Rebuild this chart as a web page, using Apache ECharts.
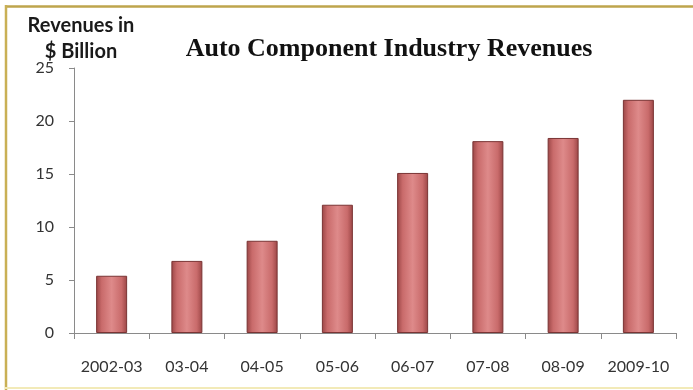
<!DOCTYPE html>
<html>
<head>
<meta charset="utf-8">
<title>Auto Component Industry Revenues</title>
<script src="https://cdn.jsdelivr.net/npm/echarts@6/dist/echarts.min.js"></script>
<style>
  html, body { margin: 0; padding: 0; background: #ffffff; }
  #chart { width: 693px; height: 390px; }
</style>
</head>
<body>
<div id="chart"></div>
<script>
// Fiscal years and revenues (US$ billion)
const years = ['2002-03', '03-04', '04-05', '05-06', '06-07', '07-08', '08-09', '2009-10'];
const revenues = [5.4, 6.8, 8.7, 12.1, 15.1, 18.1, 18.4, 22.0];
const yTicks = { min: 0, max: 25, step: 5 };

const chart = echarts.init(document.getElementById('chart'), null, { renderer: 'canvas' });

const barFill = new echarts.graphic.LinearGradient(0, 0, 1, 0, [
  { offset: 0, color: '#9a4545' },
  { offset: 0.18, color: '#c96b6b' },
  { offset: 0.5, color: '#de8a8a' },
  { offset: 0.82, color: '#c96b6b' },
  { offset: 1, color: '#9a4545' }
]);

chart.setOption({
  backgroundColor: '#ffffff',
  animation: false,
  title: [
    {
      text: 'Auto Component Industry Revenues',
      left: 389,
      top: 36,
      padding: 0,
      textAlign: 'center',
      textStyle: {
        fontFamily: 'Liberation Serif',
        fontWeight: 'bold',
        fontSize: 26,
        color: '#111111'
      }
    },
    {
      text: 'Revenues in\n$ Billion',
      left: 81,
      top: 13,
      padding: 0,
      textAlign: 'center',
      textStyle: {
        fontFamily: 'Lato',
        fontWeight: 'bold',
        fontSize: 20,
        lineHeight: 26,
        color: '#1a1a1a'
      }
    }
  ],
  grid: { left: 74, right: 17, top: 68, bottom: 57, containLabel: false },
  xAxis: {
    type: 'category',
    data: years,
    boundaryGap: true,
    axisLine: { show: true, lineStyle: { color: '#8a8a8a', width: 1 } },
    axisTick: { show: true, length: 6, alignWithLabel: false, lineStyle: { color: '#8a8a8a' } },
    axisLabel: {
      interval: 0,
      margin: 26,
      fontFamily: 'Lato',
      fontSize: 16,
      color: '#333333'
    },
    splitLine: { show: false }
  },
  yAxis: {
    type: 'value',
    min: yTicks.min,
    max: yTicks.max,
    interval: yTicks.step,
    axisLine: { show: true, lineStyle: { color: '#8a8a8a', width: 1 } },
    axisTick: { show: true, length: 5, lineStyle: { color: '#8a8a8a' } },
    axisLabel: {
      margin: 20,
      fontFamily: 'Lato',
      fontSize: 16,
      color: '#333333'
    },
    splitLine: { show: false }
  },
  series: [{
    type: 'bar',
    data: revenues,
    barWidth: 31,
    itemStyle: {
      color: barFill,
      borderColor: '#7a3434',
      borderWidth: 1
    }
  }],
  graphic: [
    // frame around the chart area
    {
      type: 'line',
      shape: { x1: 5, y1: 6.5, x2: 693, y2: 6.5 },
      style: { stroke: '#bea54c', lineWidth: 2.5 },
      silent: true
    },
    {
      type: 'line',
      shape: { x1: 6, y1: 5, x2: 6, y2: 390 },
      style: { stroke: '#c9b055', lineWidth: 2.5 },
      silent: true
    },
    {
      type: 'line',
      shape: { x1: 5, y1: 388, x2: 693, y2: 388 },
      style: { stroke: '#f2eab8', lineWidth: 2 },
      silent: true
    }
  ]
});
</script>
</body>
</html>
